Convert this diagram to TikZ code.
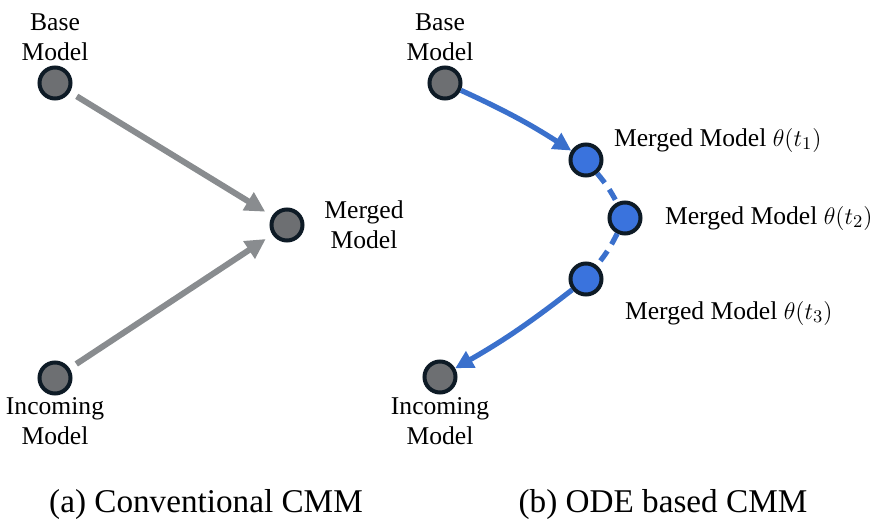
\documentclass[tikz,border=0pt]{standalone}
\usepackage{fontspec}
\setmainfont{Liberation Serif}
\usetikzlibrary{arrows.meta}
\definecolor{nodegray}{HTML}{6D6F72}
\definecolor{nodeblue}{HTML}{3A73DD}
\definecolor{rimdark}{HTML}{0E1B26}
\definecolor{arrowgray}{HTML}{898C8F}
\definecolor{arrowblue}{HTML}{3A70CC}
\tikzset{model/.style = {circle, draw=rimdark, line width=2pt, minimum size=15.5pt, inner sep=0pt},
  plain/.style = {model, fill=nodegray},
  merged/.style = {model, fill=nodeblue},
  lbl/.style = {align=center, font=\fontsize{12.8}{15}\selectfont},
  captiontext/.style = {font=\fontsize{16.6}{19}\selectfont},
  grayarrow/.style = {arrowgray, line width=3pt, shorten <=4pt, shorten >=4pt,
    -{Triangle[length=10pt,width=10pt]}},
  bluearrow/.style = {arrowblue, line width=2.6pt, -{Triangle[length=9pt,width=9pt]}},
  bluedash/.style = {arrowblue, line width=2.6pt, dash pattern=on 6pt off 4pt}}

\begin{document}
\begin{tikzpicture}[x=0.5pt, y=-0.5pt]
      \useasboundingbox (0,0) rectangle (890,530);
      % (a) conventional
      \node[plain] (a-base) at (55,83) {};
      \node[plain] (a-merged) at (287,225) {};
      \node[plain] (a-inc) at (55,378) {};
      \node[lbl] (a-base-l) at (55,37) {Base\\Model};
      \node[lbl] (a-merged-l) at (364,225) {Merged\\Model};
      \node[lbl] (a-inc-l) at (55,421) {Incoming\\Model};
      \draw[grayarrow] (a-base) -- (a-merged);
      \draw[grayarrow] (a-inc) -- (a-merged);
      % (b) ODE based
      \node[plain] (b-base) at (445,83) {};
      \node[merged] (b-m1) at (586,160) {};
      \node[merged] (b-m2) at (625,218) {};
      \node[merged] (b-m3) at (586,279) {};
      \node[plain] (b-inc) at (440,377) {};
      \node[lbl] (b-base-l) at (440,37) {Base\\Model};
      \node[lbl, anchor=west] (b-m1-l) at (607,140) {Merged Model $\theta(t_1)$};
      \node[lbl, anchor=west] (b-m2-l) at (658,218) {Merged Model $\theta(t_2)$};
      \node[lbl, anchor=west] (b-m3-l) at (618,313) {Merged Model $\theta(t_3)$};
      \node[lbl] (b-inc-l) at (440,421) {Incoming\\Model};
      \draw[bluearrow] (b-base) to[bend left=4] (b-m1);
      \draw[bluedash] (b-m1) to[bend left=6] (b-m2);
      \draw[bluedash] (b-m2) to[bend left=6] (b-m3);
      \draw[bluearrow] (b-m3) to[bend left=4] (b-inc);
      % captions
      \node[captiontext] (cap-a) at (206,505) {(a) Conventional CMM};
      \node[captiontext] (cap-b) at (663,505) {(b) ODE based CMM};
    \end{tikzpicture}
\end{document}
